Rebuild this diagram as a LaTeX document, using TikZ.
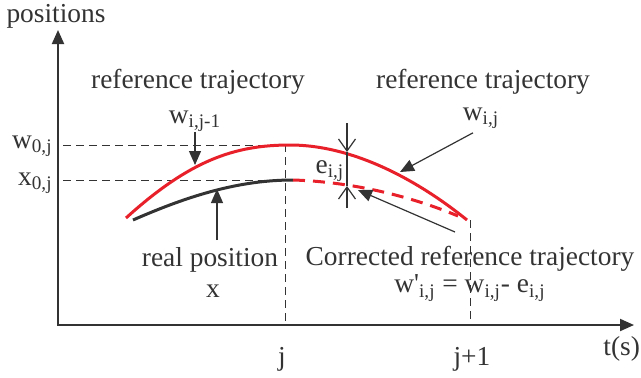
\documentclass[tikz,border=0pt]{standalone}
\usepackage{fontspec}
\setmainfont{Liberation Serif}
\usetikzlibrary{arrows.meta}
\definecolor{ink}{HTML}{333333}
\definecolor{refred}{HTML}{E8202A}

\begin{document}
\begin{tikzpicture}[
  x=0.5pt, y=-0.5pt,
  lbl/.style={text=ink, inner sep=0pt, anchor=base, font=\fontsize{13.7}{16}\selectfont},
  axis/.style={{Triangle[length=7pt,width=6pt]}-{Triangle[length=7pt,width=6pt]}, ink, line width=1pt},
  arrow/.style={-{Triangle[length=7pt,width=6pt]}, ink, line width=0.6pt},
  barb/.style={-{Straight Barb[length=6pt,width=8.5pt]}, ink, line width=0.6pt},
  guide/.style={ink, line width=0.5pt, dash pattern=on 4pt off 2.5pt},
  curve/.style={line width=1.5pt}
]
  \useasboundingbox (0,0) rectangle (641,377);

  \coordinate (o) at (58,325);
  \coordinate (ytop) at (58,30);
  \coordinate (xend) at (634,325);
  \coordinate (wtick) at (63,145);
  \coordinate (xtick) at (63,180);
  \coordinate (peak) at (285,145);
  \coordinate (xpeak) at (285,180);
  \coordinate (jaxis) at (285,325);
  \coordinate (jnext) at (470,220);
  \coordinate (jnextaxis) at (470,325);
  \coordinate (onprev) at (195,165);
  \coordinate (oncur) at (400,172);
  \coordinate (onreal) at (217,189);
  \coordinate (realtail) at (217,240);
  \coordinate (oncorr) at (358,190);
  \coordinate (corrtail) at (455,232);
  \coordinate (etop) at (347,123);
  \coordinate (eup) at (347,152);
  \coordinate (elow) at (347,186);
  \coordinate (ebot) at (347,208);

  \node[lbl] (pos) at (56,22) {positions};
  \node[lbl] (refleft) at (198,88) {reference trajectory};
  \node[lbl] (refright) at (483,88) {reference trajectory};
  \node[lbl] (wprev) at (195,123) {w\textsubscript{i,j-1}};
  \node[lbl] (wcur) at (481,120) {w\textsubscript{i,j}};
  \node[lbl, anchor=base east] (wzero) at (53,148) {w\textsubscript{0,j}};
  \node[lbl, anchor=base east] (xzero) at (53,185) {x\textsubscript{0,j}};
  \node[lbl] (err) at (330,173) {e\textsubscript{i,j}};
  \node[lbl] (real) at (210,266) {real position};
  \node[lbl] (realx) at (213,297) {x};
  \node[lbl, anchor=north, align=center, font=\fontsize{13.7}{13.6}\selectfont] (corr) at (470,246)
    {Corrected reference trajectory\\
     w\textquotesingle\textsubscript{i,j} = w\textsubscript{i,j}- e\textsubscript{i,j}};
  \node[lbl] (tj) at (282,365) {j};
  \node[lbl] (tjnext) at (472,365) {j+1};
  \node[lbl, anchor=base west] (ts) at (603,355) {t(s)};

  \draw[axis] (ytop) -- (o) -- (xend);
  \draw[guide] (wtick) -- (peak) -- (jaxis);
  \draw[guide] (xtick) -- (xpeak);
  \draw[guide] (jnext) -- (jnextaxis);

  \draw[curve, refred] (126,218) .. controls (190,160) and (235,145) .. (290,145)
    .. controls (355,145) and (420,182) .. (467,220);
  \draw[curve, ink] (133,220) .. controls (190,195) and (240,180) .. (293,180);
  \draw[curve, refred, dash pattern=on 6pt off 4pt] (293,180) .. controls (360,182) and (420,200) .. (458,216);

  \draw[arrow] (wprev.south) -- (onprev);
  \draw[arrow] ([shift={(-8,4)}]wcur.south) -- (oncur);
  \draw[arrow] (realtail) -- (onreal);
  \draw[arrow] (corrtail) -- (oncorr);
  \draw[barb] (etop) -- (eup);
  \draw[ink, line width=0.6pt] (eup) -- (elow);
  \draw[barb] (ebot) -- (elow);
\end{tikzpicture}
\end{document}
